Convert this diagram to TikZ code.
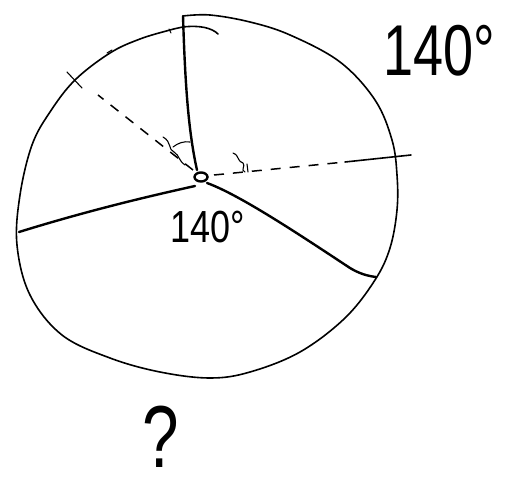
\documentclass[tikz,border=0pt]{standalone}
\usepackage{fontspec}
\setmainfont{Liberation Sans}
\begin{document}
\begin{tikzpicture}[x=1pt,y=-1pt,
  outline/.style={line width=1.6pt, line join=round, line cap=round},
  radial/.style={line width=2.4pt, line join=round, line cap=round},
  dashline/.style={line width=1.5pt, dash pattern=on 10pt off 9pt},
  thin mark/.style={line width=1.1pt, line cap=round},
  lbl/.style={inner sep=0pt, anchor=base}]
\useasboundingbox (0,0) rectangle (506,486);
% key points
\coordinate (c) at (201,177);
\coordinate (top) at (183,16);
\coordinate (topin) at (197,170);
\coordinate (left) at (19,232);
\coordinate (leftin) at (195,186);
\coordinate (lr) at (376,277);
\coordinate (lrin) at (207,183);
\coordinate (dl) at (98,95);
\coordinate (dlin) at (193,170);
\coordinate (dr) at (345,162);
\coordinate (drin) at (214,175);
\coordinate (drout) at (411,155);
% outline of the circle
\draw[outline] plot[smooth, tension=0.6] coordinates {
 (183,16) (210,15) (250,22) (290,35) (340,62) (375,100) (392,140) (397,175)
 (397,210) (390,248) (375,280) (345,318) (300,352) (250,372) (210,378)
 (160,372) (110,358) (62,335) (30,295) (17,245) (20,195) (32,145) (50,112)
 (75,80) (110,53) (140,39) (170,30) (183,27)};
\draw[outline] (183,27) .. controls (200,25) and (212,28) .. (218,34);
% small ticks on outline
\draw[thin mark] (67,72) -- (82,88);
\draw[thin mark] (107,53) -- (112,50);
\draw[thin mark] (169,29) -- (171,33);
% solid radii
\draw[radial] (top) .. controls (185,80) and (188,130) .. (topin);
\draw[radial] (leftin) .. controls (150,196) and (90,210) .. (left);
\draw[radial] (lrin) .. controls (240,195) and (300,235) .. (350,268) .. controls (360,274) and (368,276) .. (lr);
% dashed lines
\draw[dashline] (dlin) -- (dl);
\draw[dashline] (drin) -- (dr);
\draw[outline] (dr) -- (drout);
% centre oval
\draw[line width=2.4pt] (c) ellipse [x radius=6.5, y radius=4.5];
% angle marks
\draw[thin mark] (163,137) .. controls (172,142) and (168,150) .. (174,152) .. controls (180,156) and (178,160) .. (185,165);
\draw[thin mark] (173,147) .. controls (178,143) and (184,141) .. (190,142);
\draw[thin mark] (233,153) .. controls (240,156) and (236,160) .. (243,163) .. controls (246,166) and (240,170) .. (245,172);
\draw[thin mark] (247,164) -- (248,172);
% labels
\node[lbl] (lblc) at (208,243) {\fontsize{45}{45}\selectfont\scalebox{0.8}[1]{140°}};
\node[lbl] (lbltr) at (439,76) {\fontsize{72}{72}\selectfont\scalebox{0.75}[1]{140°}};
\node[lbl] (q) at (161,467) {\fontsize{80}{80}\selectfont\scalebox{0.82}[1.1]{?}};
\end{tikzpicture}
\end{document}
